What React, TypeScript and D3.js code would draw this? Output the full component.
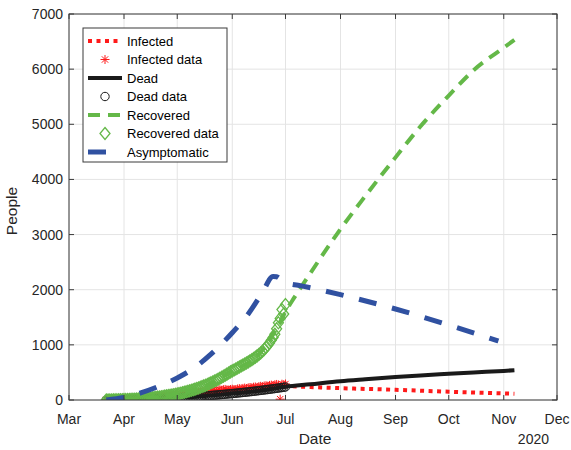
import React from 'react';
import * as d3 from 'd3';

// ---- Observed daily data, starting 2020-03-22 ----
const dataStartDate = '2020-03-22';

const infectedData = [
  0, 1, 2, 3, 4, 5, 6, 7, 8, 10,
  12, 14, 16, 18, 20, 22, 25, 28, 30, 33,
  36, 39, 42, 45, 48, 51, 54, 57, 60, 63,
  66, 70, 73, 76, 80, 83, 86, 90, 93, 96,
  100, 104, 106, 110, 114, 118, 120, 125, 128, 132,
  136, 140, 138, 146, 152, 156, 150, 162, 166, 164,
  170, 176, 168, 180, 186, 176, 188, 192, 184, 180, 190,
  196, 190, 186, 200, 206, 198, 210, 216, 208, 220,
  226, 218, 232, 236, 228, 242, 248, 240, 254, 258,
  250, 264, 270, 262, 276, 282, 272, 15, 286, 278,
  290,
];

const deadData = [
  0, 0, 0, 1, 1, 1, 2, 2, 2, 3,
  3, 4, 4, 5, 5, 6, 7, 7, 8, 9,
  10, 11, 12, 13, 14, 15, 16, 18, 19, 21,
  22, 24, 25, 27, 28, 30, 32, 33, 35, 37,
  39, 41, 43, 45, 47, 49, 51, 53, 55, 58,
  60, 62, 65, 67, 70, 72, 75, 77, 80, 82,
  85, 88, 90, 93, 96, 99, 102, 105, 108, 111, 114,
  117, 120, 123, 127, 130, 133, 137, 140, 144, 147,
  151, 154, 158, 162, 166, 170, 174, 178, 182, 186,
  190, 195, 199, 203, 208, 212, 217, 222, 226, 231,
  236,
];

const recoveredData = [
  0, 0, 1, 1, 2, 2, 3, 4, 5, 6,
  7, 8, 9, 10, 12, 13, 15, 17, 19, 21,
  23, 25, 28, 31, 34, 37, 40, 44, 48, 52,
  56, 60, 65, 70, 75, 80, 85, 91, 97, 103,
  110, 117, 124, 132, 140, 148, 157, 166, 176, 186,
  197, 208, 219, 231, 243, 256, 269, 283, 297, 312,
  327, 343, 359, 376, 393, 411, 430, 449, 469, 489, 510,
  528, 546, 563, 581, 598, 616, 634, 652, 671, 690,
  710, 731, 753, 776, 800, 826, 854, 884, 917, 953,
  992, 1035, 1082, 1134, 1192, 1290, 1400, 1480, 1640, 1560,
  1730,
];

// ---- Model trajectories ----
const infectedModelDates = ['2020-03-22', '2020-04-01', '2020-04-15', '2020-05-01', '2020-05-15', '2020-06-01', '2020-06-15', '2020-07-01', '2020-07-15', '2020-08-01', '2020-09-01', '2020-10-01', '2020-11-07'];
const infectedModelValues = [0, 12, 45, 100, 150, 190, 235, 250, 235, 215, 185, 150, 115];

const deadModelDates = ['2020-03-22', '2020-04-15', '2020-05-01', '2020-05-15', '2020-06-01', '2020-06-15', '2020-07-01', '2020-07-15', '2020-08-01', '2020-08-15', '2020-09-01', '2020-09-15', '2020-10-01', '2020-10-15', '2020-11-01', '2020-11-07'];
const deadModelValues = [0, 13, 39, 67, 117, 162, 240, 285, 340, 375, 415, 445, 475, 500, 528, 540];

const recoveredModelDates = ['2020-03-22', '2020-04-01', '2020-04-15', '2020-05-01', '2020-05-15', '2020-06-01', '2020-06-15', '2020-06-22', '2020-06-27', '2020-07-01', '2020-07-06', '2020-07-15', '2020-08-01', '2020-08-15', '2020-09-01', '2020-09-15', '2020-10-01', '2020-10-15', '2020-11-01', '2020-11-07'];
const recoveredModelValues = [0, 7, 31, 110, 231, 528, 800, 1080, 1360, 1600, 1860, 2300, 3100, 3700, 4400, 4960, 5520, 5980, 6390, 6530];

const asymptomaticModelDates = ['2020-03-22', '2020-04-01', '2020-04-10', '2020-04-20', '2020-05-01', '2020-05-10', '2020-05-20', '2020-06-01', '2020-06-10', '2020-06-18', '2020-06-24', '2020-06-26', '2020-06-29', '2020-07-02', '2020-07-10', '2020-08-01', '2020-09-01', '2020-10-01', '2020-10-29'];
const asymptomaticModelValues = [0, 45, 125, 240, 400, 570, 830, 1220, 1560, 1950, 2240, 2235, 2170, 2120, 2070, 1910, 1650, 1360, 1070];

// ---- Axes ----
const xDomain = ['2020-03-01', '2020-12-01'];
const yTicks = [0, 1000, 2000, 3000, 4000, 5000, 6000, 7000];
const yearLabel = '2020';
const xLabel = 'Date';
const yLabel = 'People';

const legendLabels = ['Infected', 'Infected data', 'Dead', 'Dead data', 'Recovered', 'Recovered data', 'Asymptomatic'];

const parse = d3.utcParse('%Y-%m-%d');

const W = 571;
const H = 450;
const left = 69;
const right = 557;
const top = 14;
const bottom = 400;

const RED = '#ff1a1a';
const BLACK = '#1a1a1a';
const GREEN = '#64b848';
const BLUE = '#3051a1';
const AXIS = '#3a3a3a';
const GRID = '#e4e4e4';
const FONT = '"Liberation Sans", Arial, Helvetica, sans-serif';

const x = d3.scaleUtc().domain(xDomain.map((s) => parse(s) as Date)).range([left, right]);
const y = d3.scaleLinear().domain([0, 7000]).range([bottom, top]);

const startDate = parse(dataStartDate) as Date;
const daily = (vals: number[]) =>
  vals.map((v, i) => ({ date: d3.utcDay.offset(startDate, i), value: v }));
const series = (dates: string[], vals: number[]) =>
  dates.map((d, i) => ({ date: parse(d) as Date, value: vals[i] }));

const line = d3
  .line<{ date: Date; value: number }>()
  .x((d) => x(d.date))
  .y((d) => y(d.value))
  .curve(d3.curveMonotoneX);

const asterisk = (r: number) => {
  const q = r * Math.SQRT1_2;
  return `M${-r},0L${r},0M0,${-r}L0,${r}M${-q},${-q}L${q},${q}M${-q},${q}L${q},${-q}`;
};
const diamond = (w: number, h: number) => `M0,${-h}L${w},0L0,${h}L${-w},0Z`;

function Marker({ kind, cx, cy }: { kind: string; cx: number; cy: number }) {
  if (kind === 'asterisk')
    return <path d={asterisk(4.5)} transform={`translate(${cx},${cy})`} stroke={RED} strokeWidth={1} fill="none" />;
  if (kind === 'circle')
    return <circle cx={cx} cy={cy} r={4.2} stroke={BLACK} strokeWidth={1} fill="none" />;
  return <path d={diamond(5, 6)} transform={`translate(${cx},${cy})`} stroke={GREEN} strokeWidth={1.3} fill="none" />;
}

export default function App() {
  const monthTicks = d3.utcMonth.range(x.domain()[0], d3.utcDay.offset(x.domain()[1], 1));
  const fmt = d3.utcFormat('%b');

  const infD = daily(infectedData);
  const deadD = daily(deadData);
  const recD = daily(recoveredData);

  const styles = [
    { stroke: RED, width: 4, dash: '4 4.5', kind: 'line' },
    { kind: 'asterisk' },
    { stroke: BLACK, width: 4, dash: undefined, kind: 'line' },
    { kind: 'circle' },
    { stroke: GREEN, width: 4, dash: '12 8', kind: 'line' },
    { kind: 'diamond' },
    { stroke: BLUE, width: 5, dash: '18 16', kind: 'line' },
  ];

  const legX = 83;
  const legY = 28;
  const legW = 144;
  const legH = 134;
  const rowY = (i: number) => legY + 13 + i * 18.5;

  return (
    <svg width={W} height={H} style={{ position: 'absolute', left: 0, top: 0, background: '#fff' }} fontFamily={FONT}>
      <rect x={0} y={0} width={W} height={H} fill="#fff" />
      <defs>
        <clipPath id="plotClip">
          <rect x={left} y={top} width={right - left} height={bottom - top} />
        </clipPath>
      </defs>

      {/* grid */}
      <g stroke={GRID} strokeWidth={1}>
        {monthTicks.map((t, i) => (
          <line key={'gx' + i} x1={x(t)} x2={x(t)} y1={top} y2={bottom} />
        ))}
        {yTicks.map((t) => (
          <line key={'gy' + t} x1={left} x2={right} y1={y(t)} y2={y(t)} />
        ))}
      </g>

      {/* model curves and data, in plotting order */}
      <g clipPath="url(#plotClip)">
        <path d={line(series(infectedModelDates, infectedModelValues)) || ''} fill="none" stroke={RED} strokeWidth={4} strokeDasharray="4 4.5" />
        {infD.map((d, i) => (
          <Marker key={'ia' + i} kind="asterisk" cx={x(d.date)} cy={y(d.value)} />
        ))}
        <path d={line(series(deadModelDates, deadModelValues)) || ''} fill="none" stroke={BLACK} strokeWidth={4} />
        {deadD.map((d, i) => (
          <Marker key={'dc' + i} kind="circle" cx={x(d.date)} cy={y(d.value)} />
        ))}
        <path d={line(series(recoveredModelDates, recoveredModelValues)) || ''} fill="none" stroke={GREEN} strokeWidth={4} strokeDasharray="12 8" />
        {recD.map((d, i) => (
          <Marker key={'rd' + i} kind="diamond" cx={x(d.date)} cy={y(d.value)} />
        ))}
        <path d={line(series(asymptomaticModelDates, asymptomaticModelValues)) || ''} fill="none" stroke={BLUE} strokeWidth={5} strokeDasharray="18 16" />
      </g>

      {/* axes box and ticks */}
      <g stroke={AXIS} strokeWidth={1} fill="none">
        <rect x={left} y={top} width={right - left} height={bottom - top} />
        {monthTicks.map((t, i) => (
          <g key={'tx' + i}>
            <line x1={x(t)} x2={x(t)} y1={bottom} y2={bottom - 5} />
            <line x1={x(t)} x2={x(t)} y1={top} y2={top + 5} />
          </g>
        ))}
        {yTicks.map((t) => (
          <g key={'ty' + t}>
            <line x1={left} x2={left + 5} y1={y(t)} y2={y(t)} />
            <line x1={right} x2={right - 5} y1={y(t)} y2={y(t)} />
          </g>
        ))}
      </g>

      {/* tick labels */}
      <g fill="#262626" fontSize={14}>
        {monthTicks.map((t, i) => (
          <text key={'lx' + i} x={x(t)} y={424} textAnchor="middle">
            {fmt(t)}
          </text>
        ))}
        {yTicks.map((t) => (
          <text key={'ly' + t} x={63} y={y(t) + 5} textAnchor="end">
            {t}
          </text>
        ))}
        <text x={549} y={444} textAnchor="end">
          {yearLabel}
        </text>
      </g>

      {/* axis labels */}
      <text x={(left + right) / 2 + 2} y={444} textAnchor="middle" fontSize={15.5} fill="#262626">
        {xLabel}
      </text>
      <text transform={`translate(17,${(top + bottom) / 2 + 4}) rotate(-90)`} textAnchor="middle" fontSize={15.5} fill="#262626">
        {yLabel}
      </text>

      {/* legend */}
      <g>
        <rect x={legX} y={legY} width={legW} height={legH} fill="#fff" stroke={AXIS} strokeWidth={1} />
        {legendLabels.map((lab, i) => {
          const s = styles[i];
          const cy = rowY(i);
          return (
            <g key={'leg' + i}>
              {s.kind === 'line' ? (
                <line x1={88} x2={122} y1={cy} y2={cy} stroke={s.stroke} strokeWidth={s.width} strokeDasharray={s.dash} />
              ) : (
                <Marker kind={s.kind} cx={105} cy={cy} />
              )}
              <text x={127} y={cy + 4.5} fontSize={13} fill="#000">
                {lab}
              </text>
            </g>
          );
        })}
      </g>
    </svg>
  );
}
